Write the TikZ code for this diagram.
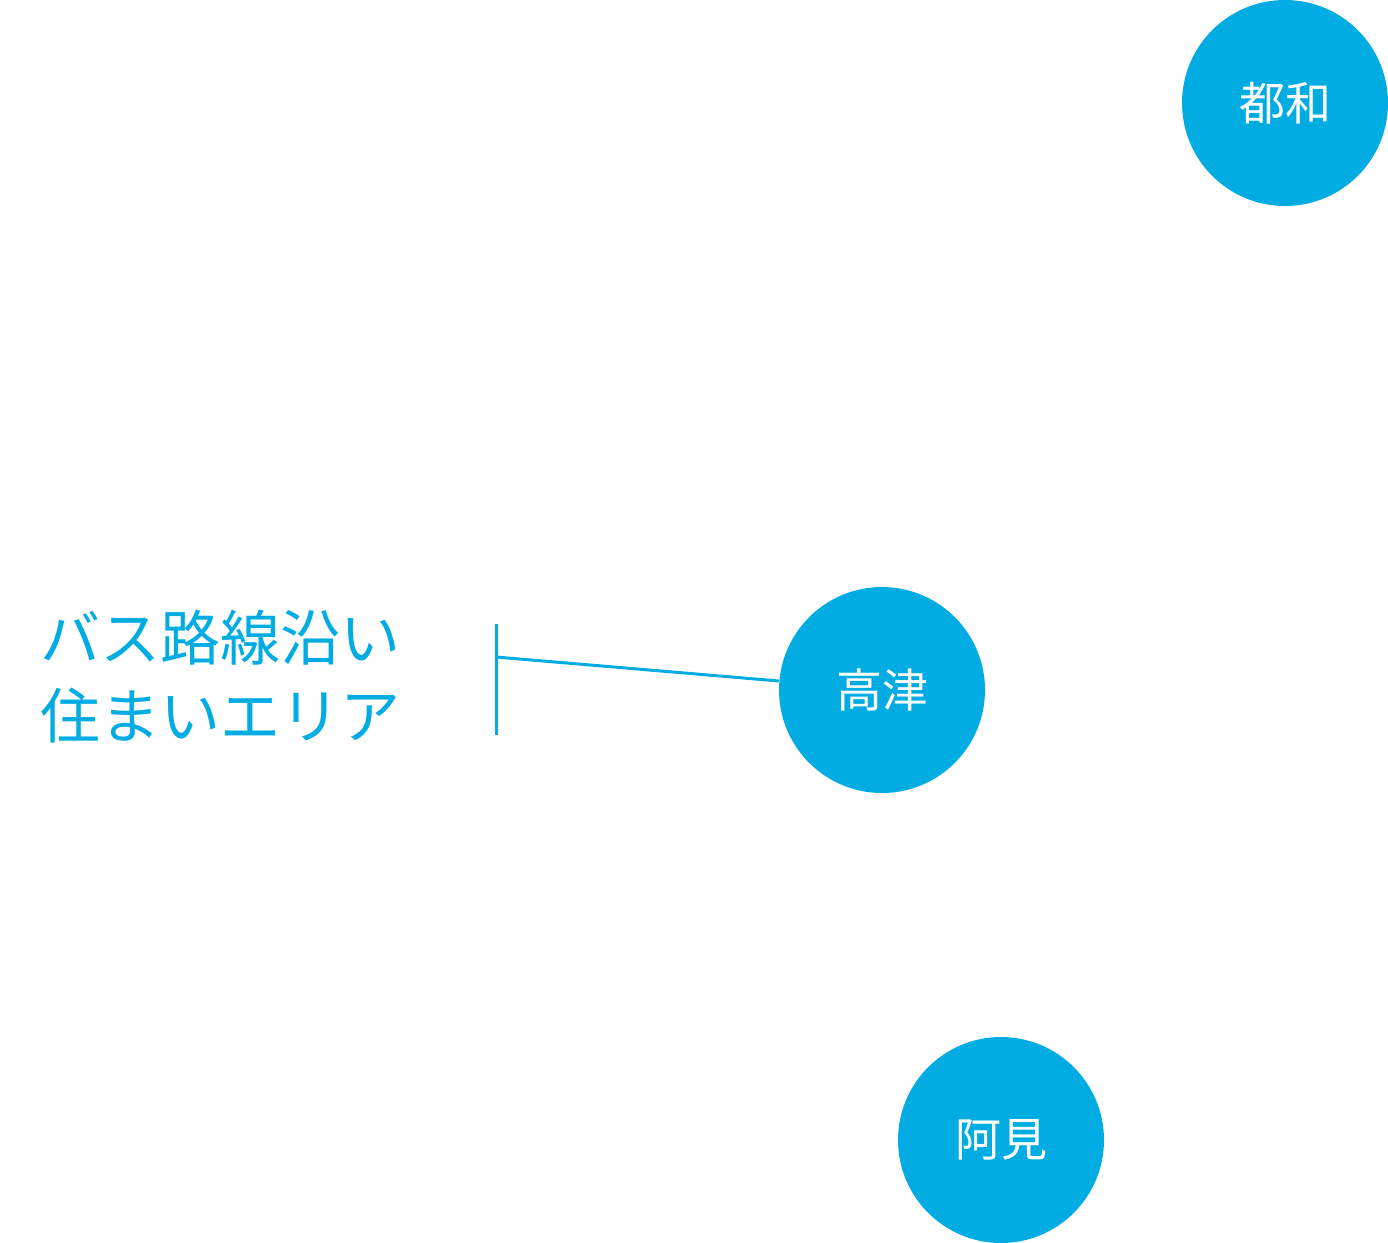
\documentclass[tikz,border=0pt]{standalone}
\usepackage{fontspec}
\newfontfamily\cjk{Noto Sans CJK JP}
\definecolor{cb}{HTML}{00ACE2}
\begin{document}
\begin{tikzpicture}[x=1pt,y=-1pt,
  stn/.style={circle,fill=cb,minimum size=206pt,inner sep=0pt,text=white,font=\cjk\fontsize{46}{50}\selectfont},
  lbl/.style={text=cb,font=\cjk\fontsize{60}{78}\selectfont,align=left,anchor=west,inner sep=0pt},
  ln/.style={draw=cb,line width=3pt}]
\useasboundingbox (0,0) rectangle (1388,1242);
\node[stn] (tsuwa) at (1285,103) {都和};
\node[stn] (takatsu) at (882,690) {高津};
\node[stn] (ami) at (1001,1140) {阿見};
\node[lbl] (label) at (40,677) {バス路線沿い\\住まいエリア};
\coordinate (bt) at (496,624);
\coordinate (bb) at (496,735);
\coordinate (bm) at (496,657);
\draw[ln] (bt) -- (bb);
\draw[ln] (bm) -- (takatsu.west |- 0,681);
\end{tikzpicture}
\end{document}
